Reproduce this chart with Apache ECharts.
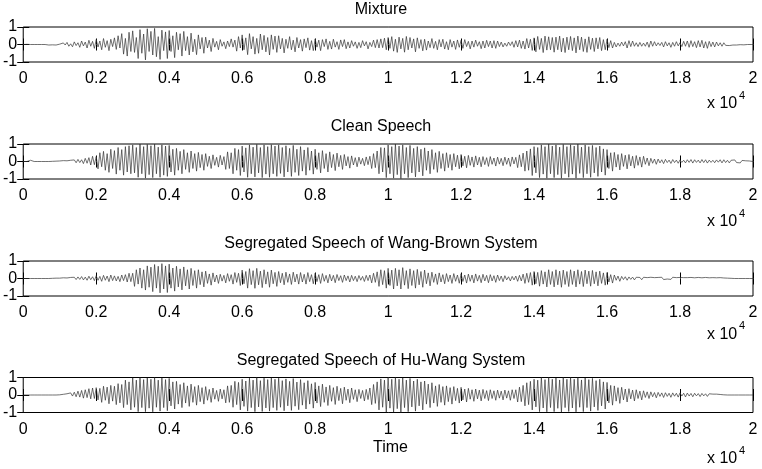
<!DOCTYPE html>
<html><head><meta charset="utf-8">
<script src="https://cdn.jsdelivr.net/npm/echarts@6/dist/echarts.min.js"></script>
<style>html,body{margin:0;padding:0;background:#fff}#c{width:762px;height:469px}</style>
</head><body><div id="c"></div>
<script>
// sample spacing of the listed values (samples)
const STEP = 50;
const titles = ["Mixture", "Clean Speech", "Segregated Speech of Wang-Brown System", "Segregated Speech of Hu-Wang System"];
const xTicks = [0, 2000, 4000, 6000, 8000, 10000, 12000, 14000, 16000, 18000, 20000];
const yTicks = [-1, 0, 1];

const mixture = [
0,0,.01,0,0,.01,0,0,0,0,0,0,0,0,-.03,-.04,-.02,-.05,-.03,-.04,
.02,-.07,.09,-.03,.12,-.1,.04,-.13,.15,-.06,.1,-.16,.2,-.08,.14,-.2,.24,-.1,.18,-.22,
.28,-.14,.2,-.3,.34,-.16,.22,-.35,.3,-.12,.38,-.28,.5,-.2,.62,-.55,.35,-.66,.7,-.4,
.78,-.45,.4,-.8,.85,-.5,.6,-.88,.9,-.4,.75,-.6,.92,-.7,.45,-.85,.82,-.35,.72,-.8,
.8,-.4,.5,-.75,.7,-.3,.62,-.66,.75,-.35,.45,-.6,.65,-.42,.3,-.58,.55,-.25,.4,-.5,
.42,-.2,.25,-.4,.35,-.15,.18,-.3,.28,-.1,.15,-.24,.2,-.12,.32,-.15,.25,-.38,.45,-.2,
.55,-.3,.38,-.58,.62,-.25,.45,-.55,.35,-.5,.6,-.3,.52,-.42,.4,-.6,.55,-.28,.48,-.45,
.5,-.25,.35,-.48,.3,-.22,.45,-.3,.25,-.42,.4,-.2,.28,-.38,.32,-.18,.38,-.32,.22,-.35,
.32,-.15,.25,-.35,.28,-.12,.32,-.28,.18,-.26,.3,-.15,.16,-.28,.26,-.12,.28,-.24,.15,-.2,
.22,-.1,.15,-.22,.12,-.18,.22,-.08,.16,-.25,.12,-.12,.25,-.18,.28,-.2,.32,-.18,.36,-.3,
.4,-.22,.45,-.38,.3,-.45,.42,-.25,.35,-.44,.46,-.3,.4,-.2,.32,-.42,.38,-.22,.28,-.36,
.3,-.32,.2,-.18,.34,-.22,.18,-.3,.28,-.14,.3,-.26,.16,-.3,.28,-.15,.2,-.28,.26,-.16,
.24,-.22,.28,-.12,.18,-.25,.2,-.15,.25,-.1,.16,-.24,.2,-.2,.24,-.12,.2,-.2,.22,-.22,
.2,-.12,.14,-.14,.08,-.1,.14,-.06,.16,-.16,.22,-.14,.25,-.22,.2,-.26,.34,-.2,.3,-.34,
.38,-.42,.46,-.28,.35,-.46,.48,-.32,.44,-.3,.4,-.44,.42,-.3,.48,-.42,.36,-.46,.42,-.3,
.46,-.35,.38,-.48,.48,-.3,.42,-.4,.32,-.45,.44,-.28,.36,-.4,.38,-.25,.4,-.35,.28,-.3,
.3,-.18,.22,-.2,.12,-.14,.08,-.1,.14,-.08,.16,-.2,.22,-.12,.2,-.1,.1,-.12,.12,-.1,
.08,-.1,.14,-.16,.2,-.1,.16,-.08,.1,-.06,.12,-.14,.16,-.08,.1,-.16,.12,-.1,.16,-.08,
.1,-.12,.18,-.1,.2,-.16,.22,-.12,.16,-.18,.22,-.14,.24,-.2,.16,-.22,.18,-.12,.14,-.14,
.14,-.08,.1,-.1,.1,-.05,.06,-.06,.05,-.03,.04,-.03,.03,-.01,.02,-.02,.02,0,.01,0,
0];

const clean = [
0,0,0,.05,.07,.02,0,0,0,0,0,0,0,0,0,0,.01,-.01,.02,-.02,
.03,-.03,.05,-.02,.04,-.05,.07,-.04,.09,-.07,.12,-.06,.1,-.12,.18,-.1,.22,-.2,.3,-.18,
.28,-.42,.5,-.3,.58,-.5,.45,-.62,.7,-.4,.62,-.72,.8,-.5,.68,-.78,.85,-.6,.9,-.7,
.95,-.65,.8,-.9,1,-.7,.85,-.95,.98,-.75,.9,-.92,1,-.7,.82,-.9,.95,-.78,.88,-.85,
.92,-.6,.7,-.78,.75,-.5,.58,-.7,.68,-.45,.5,-.62,.6,-.4,.45,-.55,.52,-.35,.4,-.5,
.45,-.28,.3,-.4,.38,-.22,.24,-.32,.35,-.2,.28,-.45,.55,-.4,.5,-.7,.75,-.5,.68,-.8,
.88,-.6,.78,-.9,.95,-.7,.82,-.88,.98,-.65,.8,-.92,.95,-.72,.85,-.9,.96,-.7,.88,-.85,
.95,-.68,.8,-.88,.9,-.6,.75,-.85,.92,-.62,.7,-.8,.85,-.55,.66,-.78,.8,-.5,.6,-.72,
.7,-.45,.5,-.65,.62,-.4,.45,-.6,.55,-.35,.4,-.52,.48,-.3,.35,-.45,.4,-.25,.28,-.38,
.32,-.2,.22,-.3,.25,-.15,.18,-.24,.26,-.18,.3,-.4,.45,-.35,.6,-.7,.8,-.6,.78,-.92,
.95,-.7,.85,-.95,1,-.75,.88,-.98,.95,-.7,.8,-.92,.92,-.65,.75,-.88,.85,-.6,.7,-.82,
.78,-.5,.6,-.7,.68,-.45,.5,-.62,.58,-.4,.45,-.55,.5,-.35,.4,-.5,.45,-.3,.36,-.42,
.4,-.25,.3,-.36,.35,-.22,.26,-.32,.32,-.2,.24,-.3,.28,-.18,.22,-.28,.28,-.16,.2,-.26,
.25,-.15,.18,-.24,.25,-.16,.2,-.28,.26,-.14,.24,-.35,.38,-.3,.48,-.55,.6,-.5,.72,-.8,
.85,-.65,.8,-.92,.95,-.72,.85,-.95,1,-.7,.88,-.92,.95,-.75,.82,-.96,.98,-.7,.85,-.9,
.96,-.72,.88,-.95,1,-.68,.82,-.92,.95,-.7,.85,-.9,.92,-.65,.8,-.85,.88,-.6,.72,-.78,
.68,-.4,.5,-.55,.52,-.32,.4,-.48,.45,-.28,.36,-.42,.4,-.25,.3,-.38,.34,-.22,.26,-.32,
.3,-.16,.2,-.24,.18,-.1,.14,-.16,.14,-.08,.1,-.12,.12,-.06,.08,-.11,.11,-.06,.08,-.1,
.09,-.05,.07,-.08,.1,-.05,.11,-.09,.1,-.05,.08,-.08,.11,-.06,.1,-.09,.08,-.05,.07,-.07,
.09,-.04,.1,-.08,.1,-.06,.07,-.08,.07,-.03,.09,-.06,.05,-.08,.06,-.03,.04,-.04,.03,-.01,
0];

const wangBrown = [
0,0,0,0,0,0,0,0,0,0,0,0,0,0,0,0,.01,-.01,.02,-.02,
.02,-.03,.04,-.02,.03,-.05,.06,-.03,.07,-.06,.09,-.05,.11,-.08,.08,-.1,.13,-.07,.1,-.12,
.16,-.1,.12,-.16,.18,-.1,.14,-.18,.2,-.12,.15,-.14,.12,-.18,.2,-.12,.22,-.2,.3,-.18,
.3,-.45,.5,-.32,.6,-.55,.5,-.66,.72,-.5,.65,-.75,.8,-.55,.7,-.82,.85,-.6,.72,-.8,
.82,-.55,.6,-.72,.7,-.48,.55,-.65,.66,-.42,.5,-.6,.58,-.4,.45,-.55,.5,-.35,.38,-.48,
.42,-.28,.26,-.38,.32,-.2,.2,-.28,.24,-.15,.18,-.25,.28,-.16,.22,-.32,.34,-.22,.3,-.4,
.48,-.3,.4,-.55,.56,-.35,.45,-.56,.58,-.36,.42,-.52,.5,-.32,.38,-.5,.48,-.3,.35,-.45,
.4,-.24,.3,-.36,.36,-.22,.26,-.34,.36,-.2,.25,-.32,.34,-.2,.24,-.32,.34,-.18,.22,-.3,
.3,-.18,.22,-.28,.28,-.16,.18,-.25,.24,-.14,.18,-.24,.23,-.12,.16,-.22,.2,-.12,.15,-.2,
.18,-.12,.13,-.18,.17,-.1,.12,-.17,.18,-.12,.2,-.25,.3,-.22,.38,-.45,.5,-.35,.45,-.55,
.58,-.4,.48,-.6,.58,-.42,.5,-.6,.62,-.38,.45,-.58,.55,-.4,.45,-.55,.52,-.36,.4,-.5,
.48,-.3,.32,-.42,.36,-.22,.26,-.34,.32,-.2,.22,-.3,.28,-.18,.2,-.28,.28,-.16,.2,-.27,
.27,-.17,.2,-.26,.25,-.16,.2,-.25,.26,-.15,.18,-.24,.24,-.14,.18,-.24,.22,-.14,.16,-.22,
.2,-.12,.14,-.18,.16,-.08,.1,-.14,.12,-.08,.14,-.16,.18,-.14,.25,-.28,.3,-.22,.34,-.38,
.4,-.3,.35,-.44,.45,-.32,.38,-.48,.5,-.34,.4,-.48,.5,-.36,.42,-.5,.48,-.34,.4,-.46,
.5,-.34,.42,-.48,.5,-.32,.4,-.46,.48,-.3,.42,-.44,.46,-.3,.38,-.42,.42,-.28,.32,-.38,
.34,-.2,.22,-.26,.2,-.1,.14,-.16,.12,-.06,.1,-.1,.09,-.05,.08,-.08,.07,-.04,.06,-.07,
.07,-.04,.05,-.06,.07,-.04,.05,-.06,.06,-.03,.07,-.06,.05,-.03,.06,-.05,.07,-.04,.05,-.05,
.06,-.03,.05,-.05,.05,-.03,.06,-.05,.04,-.03,.06,-.04,.04,-.05,.06,-.03,.04,-.04,.05,-.03,
.04,-.04,.05,-.02,.03,-.03,.02,-.01,.01,0,0,0,0,0,0,0,0,0,0,0,
0];

const huWang = [
0,0,0,0,0,0,0,0,0,0,0,0,0,0,0,0,0,0,0,0,
.01,-.02,.04,-.03,.07,-.04,.12,-.06,.16,-.1,.22,-.12,.26,-.18,.3,-.15,.36,-.22,.4,-.2,
.42,-.28,.38,-.42,.5,-.3,.45,-.5,.55,-.35,.5,-.55,.65,-.45,.6,-.72,.85,-.55,.75,-.85,
.98,-.7,.85,-.95,1,-.72,.88,-.95,.98,-.75,.9,-.96,1,-.7,.85,-.92,.98,-.72,.88,-.9,
.95,-.62,.75,-.8,.78,-.52,.6,-.72,.7,-.46,.52,-.65,.62,-.42,.48,-.58,.55,-.38,.42,-.52,
.48,-.3,.32,-.42,.4,-.24,.26,-.36,.34,-.22,.3,-.45,.52,-.42,.55,-.7,.78,-.55,.72,-.85,
.9,-.65,.8,-.92,.96,-.72,.85,-.95,1,-.68,.82,-.94,.96,-.74,.88,-.92,.98,-.72,.9,-.88,
.96,-.7,.82,-.9,.92,-.62,.78,-.88,.94,-.64,.74,-.84,.88,-.58,.7,-.8,.82,-.52,.64,-.75,
.72,-.46,.52,-.66,.62,-.42,.46,-.6,.55,-.36,.42,-.54,.5,-.32,.38,-.5,.45,-.3,.34,-.44,
.4,-.25,.3,-.38,.32,-.2,.26,-.34,.32,-.26,.4,-.55,.6,-.48,.75,-.85,.92,-.7,.85,-.98,
1,-.75,.9,-.98,1,-.78,.9,-1,.98,-.72,.85,-.95,.95,-.68,.8,-.92,.9,-.62,.75,-.85,
.8,-.52,.62,-.72,.7,-.46,.52,-.65,.6,-.42,.48,-.58,.52,-.38,.42,-.52,.48,-.32,.38,-.46,
.44,-.28,.34,-.4,.38,-.24,.3,-.36,.34,-.22,.28,-.34,.32,-.2,.25,-.32,.3,-.2,.24,-.3,
.28,-.18,.22,-.28,.28,-.18,.24,-.3,.3,-.2,.3,-.4,.45,-.38,.55,-.62,.7,-.55,.78,-.85,
.9,-.68,.85,-.95,1,-.74,.88,-.96,1,-.72,.9,-.95,.98,-.76,.86,-.98,1,-.72,.9,-.94,
1,-.74,.9,-.96,1,-.7,.86,-.95,.98,-.72,.88,-.92,.95,-.68,.82,-.88,.9,-.62,.75,-.8,
.72,-.45,.55,-.58,.52,-.35,.42,-.48,.44,-.28,.34,-.4,.36,-.22,.28,-.34,.3,-.2,.22,-.28,
.24,-.14,.18,-.2,.18,-.1,.14,-.16,.15,-.08,.12,-.14,.13,-.08,.1,-.13,.12,-.07,.1,-.12,
.12,-.06,.1,-.11,.11,-.06,.09,-.1,.1,-.05,.08,-.09,.09,-.05,.07,-.08,.07,-.04,.05,-.06,
.05,-.03,.03,-.02,.01,0,0,0,0,0,0,0,0,0,0,0,0,0,0,0,
0];

const seriesValues = [mixture, clean, wangBrown, huWang];

const FONT = '"Liberation Sans", Arial, Helvetica, sans-serif';
const gridTops = [27, 144, 261, 377.5];
const expOffsets = [34, 35, 30.5, 38.5];
const gridLeft = 21, gridW = 732, gridH = 35;

const grids = [], xAxes = [], yAxes = [], series = [], graphics = [];
gridTops.forEach((top, k) => {
  grids.push({left: gridLeft, top: top, width: gridW, height: gridH, show: true, borderColor: '#000', borderWidth: 1, backgroundColor: '#fff'});
  const common = {type: 'value', gridIndex: k, min: xTicks[0], max: xTicks[xTicks.length-1], interval: xTicks[1]-xTicks[0],
    splitLine: {show: false}, axisLine: {show: false},
    axisTick: {show: true, inside: true, length: 6, lineStyle: {color: '#000', width: 1}}};
  xAxes.push(Object.assign({}, common, {position: 'bottom',
    axisLabel: {show: true, color: '#000', fontSize: 16, fontFamily: FONT, margin: 9,
      formatter: v => String(+(v/10000).toFixed(1))}}));
  xAxes.push(Object.assign({}, common, {position: 'top', axisLabel: {show: false}}));
  const ycommon = {type: 'value', gridIndex: k, min: yTicks[0], max: yTicks[yTicks.length-1], interval: 1,
    splitLine: {show: false}, axisLine: {show: false},
    axisTick: {show: true, inside: true, length: 6, lineStyle: {color: '#000', width: 1}}};
  yAxes.push(Object.assign({}, ycommon, {position: 'left',
    axisLabel: {show: true, color: '#000', fontSize: 16, fontFamily: FONT, margin: 6}}));
  yAxes.push(Object.assign({}, ycommon, {position: 'right', axisLabel: {show: false}}));
  series.push({type: 'line', xAxisIndex: 2*k, yAxisIndex: 2*k, showSymbol: false, sampling: null,
    lineStyle: {color: '#333', width: 0.7}, animation: false, z: 1,
    data: seriesValues[k].map((v, i) => [i*STEP, v])});
  graphics.push({type: 'text', left: 'center', x: 0, top: top - 25,
    style: {text: titles[k], font: '16px ' + FONT, fill: '#000'}});
  graphics.push({type: 'text', left: 707, top: top + gridH + expOffsets[k],
    style: {text: 'x 10', font: '16px ' + FONT, fill: '#000'}});
  graphics.push({type: 'text', left: 739, top: top + gridH + expOffsets[k] - 6,
    style: {text: '4', font: '11px ' + FONT, fill: '#000'}});
});
graphics.push({type: 'text', left: 373, top: 440, style: {text: 'Time', font: '16px ' + FONT, fill: '#000'}});

const chart = echarts.init(document.getElementById('c'), null, {renderer: 'canvas'});
chart.setOption({animation: false, grid: grids, xAxis: xAxes, yAxis: yAxes, series: series, graphic: graphics});
</script></body></html>
